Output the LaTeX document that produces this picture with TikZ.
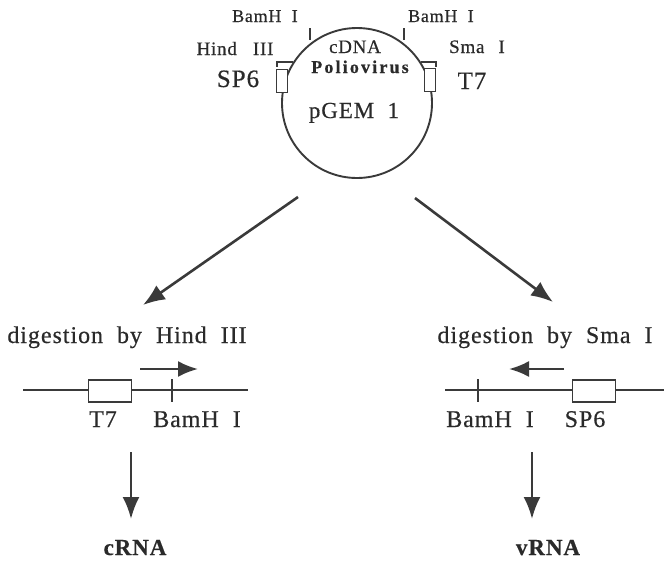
\documentclass[tikz,border=0pt]{standalone}
\usepackage{fontspec}
\setmainfont{Liberation Serif}[LetterSpace=4,WordSpace=2,FakeBold=0.5]
\usetikzlibrary{arrows.meta}
\definecolor{ink}{HTML}{2A2A2A}
\definecolor{lineink}{HTML}{3A3A3A}
\tikzset{
  lbl/.style={inner sep=0pt, anchor=base, text=ink},
  dnaline/.style={draw=lineink, line width=1.8pt},
  promoter/.style={draw=lineink, line width=1.6pt, fill=white, minimum width=11pt, minimum height=23pt, inner sep=0pt},
  bigbox/.style={draw=lineink, line width=1.6pt, fill=white, minimum width=43pt, minimum height=22pt, inner sep=0pt},
  flow/.style={draw=lineink, line width=2.6pt, -{Latex[length=22pt,width=17pt]}},
  small/.style={draw=lineink, line width=2.4pt, -{Latex[length=20pt,width=16pt]}},
}
\begin{document}
\begin{tikzpicture}[x=1pt,y=-1pt]
\useasboundingbox (0,0) rectangle (664,560);
% plasmid
\node (plasmid) [circle, draw=lineink, line width=1.9pt, minimum size=150pt, inner sep=0pt] at (357,103) {};
% BamH I ticks
\coordinate (tl1) at (310,28); \coordinate (tl2) at (310,40);
\coordinate (tr1) at (404,28); \coordinate (tr2) at (404,40);
\draw[dnaline, line width=1.4pt] (tl1) -- (tl2);
\draw[dnaline, line width=1.4pt] (tr1) -- (tr2);
% Hind III / Sma I marks
\coordinate (hA) at (293,62); \coordinate (hB) at (277,62); \coordinate (hC) at (277,67);
\coordinate (sA) at (421,62); \coordinate (sB) at (436,62); \coordinate (sC) at (436,67);
\draw[dnaline, line width=1.5pt] (hA) -- (hB) -- (hC);
\draw[dnaline, line width=1.5pt] (sA) -- (sB) -- (sC);
% promoter boxes
\node (sp6box) [promoter] at (282,81) {};
\node (t7box) [promoter] at (430,80) {};
% top labels
\node (bamL) [lbl, font=\fontsize{18}{18}\selectfont] at (265,22) {BamH I};
\node (bamR) [lbl, font=\fontsize{18}{18}\selectfont] at (441,22) {BamH I};
\node (hind) [lbl, font=\fontsize{19}{19}\selectfont] at (235,55) {Hind\hspace{5pt} III};
\node (sma) [lbl, font=\fontsize{19}{19}\selectfont] at (477,53) {Sma\hspace{3pt} I};
\node (sp6) [lbl, font=\fontsize{25}{25}\selectfont] at (238,87) {SP6};
\node (t7) [lbl, font=\fontsize{25}{25}\selectfont] at (472,89) {T7};
\node (cdna) [lbl, font=\fontsize{19}{19}\selectfont] at (355,53) {cDNA};
\node (polio) [lbl, font=\fontsize{18}{18}\selectfont\bfseries\addfontfeatures{LetterSpace=12}] at (360,73) {Poliovirus};
\node (pgem) [lbl, font=\fontsize{23}{23}\selectfont] at (354,118) {pGEM 1};
% diagonal arrows
\coordinate (dlS) at (298,197); \coordinate (dlE) at (143,305);
\coordinate (drS) at (415,198); \coordinate (drE) at (553,302);
\draw[flow] (dlS) -- (dlE);
\draw[flow] (drS) -- (drE);
% left digestion
\node (digL) [lbl, font=\fontsize{24}{24}\selectfont] at (127,343) {digestion by Hind III};
\coordinate (lineL1) at (23,390); \coordinate (lineL2) at (248,390);
\draw[dnaline] (lineL1) -- (lineL2);
\node (t7b) [bigbox] at (110,391) {};
\coordinate (tkL1) at (172,379); \coordinate (tkL2) at (172,402);
\draw[dnaline] (tkL1) -- (tkL2);
\coordinate (arL1) at (140,369); \coordinate (arL2) at (198,369);
\draw[small] (arL1) -- (arL2);
\node (t7lab) [lbl, font=\fontsize{24}{24}\selectfont] at (103,427) {T7};
\node (bamLb) [lbl, font=\fontsize{24}{24}\selectfont] at (197,427) {BamH I};
\coordinate (vL1) at (131,452); \coordinate (vL2) at (131,519);
\draw[flow] (vL1) -- (vL2);
\node (crna) [lbl, font=\fontsize{23}{23}\selectfont\bfseries] at (135,555) {cRNA};
% right digestion
\node (digR) [lbl, font=\fontsize{24}{24}\selectfont] at (545,343) {digestion by Sma I};
\coordinate (lineR1) at (445,390); \coordinate (lineR2) at (664,390);
\draw[dnaline] (lineR1) -- (lineR2);
\node (sp6b) [bigbox] at (594,391) {};
\coordinate (tkR1) at (478,379); \coordinate (tkR2) at (478,402);
\draw[dnaline] (tkR1) -- (tkR2);
\coordinate (arR1) at (564,369); \coordinate (arR2) at (509,369);
\draw[small] (arR1) -- (arR2);
\node (bamRb) [lbl, font=\fontsize{24}{24}\selectfont] at (490,427) {BamH I};
\node (sp6lab) [lbl, font=\fontsize{24}{24}\selectfont] at (585,427) {SP6};
\coordinate (vR1) at (532,452); \coordinate (vR2) at (532,519);
\draw[flow] (vR1) -- (vR2);
\node (vrna) [lbl, font=\fontsize{23}{23}\selectfont\bfseries] at (548,555) {vRNA};
\end{tikzpicture}
\end{document}
